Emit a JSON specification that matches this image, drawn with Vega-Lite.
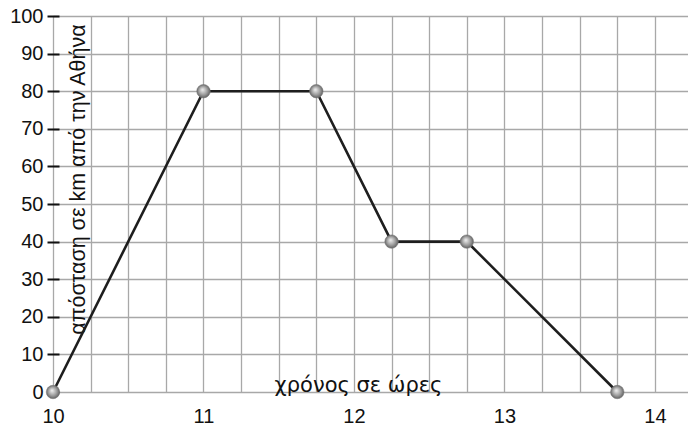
{
  "$schema": "https://vega.github.io/schema/vega-lite/v6.json",
  "autosize": "none",
  "width": 635,
  "height": 376,
  "padding": {"left": 53, "top": 16, "right": 0, "bottom": 35},
  "background": "white",
  "config": {
    "view": {"stroke": null},
    "font": "Liberation Sans",
    "axis": {"gridColor": "#a8a8a8", "gridWidth": 1.3, "gridOpacity": 1}
  },
  "data": {
    "values": [
      {"t": 10, "d": 0},
      {"t": 11, "d": 80},
      {"t": 11.75, "d": 80},
      {"t": 12.25, "d": 40},
      {"t": 12.75, "d": 40},
      {"t": 13.75, "d": 0}
    ]
  },
  "encoding": {
    "x": {
      "field": "t",
      "type": "quantitative",
      "scale": {"domain": [10, 14.22], "nice": false, "zero": false},
      "axis": {
        "values": [10, 10.25, 10.5, 10.75, 11, 11.25, 11.5, 11.75, 12, 12.25, 12.5, 12.75, 13, 13.25, 13.5, 13.75, 14],
        "labelExpr": "datum.value % 1 === 0 ? format(datum.value, 'd') : ''",
        "ticks": false,
        "domain": false,
        "grid": true,
        "labelFontSize": 20,
        "labelColor": "#111",
        "labelPadding": 14,
        "labelFlush": false,
        "title": "χρόνος σε ώρες",
        "titleFont": "DejaVu Sans",
        "titleFontSize": 21,
        "titleFontWeight": "normal",
        "titleColor": "#111",
        "titleX": 305,
        "titleY": -1,
        "titleBaseline": "alphabetic",
        "titleAlign": "center"
      }
    },
    "y": {
      "field": "d",
      "type": "quantitative",
      "scale": {"domain": [0, 100], "nice": false},
      "axis": {
        "values": [0, 10, 20, 30, 40, 50, 60, 70, 80, 90, 100],
        "format": "d",
        "grid": true,
        "domain": false,
        "offset": -6,
        "tickSize": 12,
        "tickColor": "#111",
        "tickWidth": 2,
        "labelFontSize": 20,
        "labelColor": "#111",
        "labelPadding": 4,
        "labelFlush": false,
        "title": "απόσταση σε km από την Αθήνα",
        "titleFontSize": 21.5,
        "titleFontWeight": "normal",
        "titleColor": "#111",
        "titleAngle": -90,
        "titleX": 25,
        "titleY": 163,
        "titleAlign": "center",
        "titleBaseline": "alphabetic"
      }
    }
  },
  "layer": [
    {"mark": {"type": "line", "color": "#1e1e1e", "strokeWidth": 2.6}},
    {
      "mark": {
        "type": "point",
        "filled": true,
        "size": 180,
        "opacity": 1,
        "stroke": "#777",
        "strokeWidth": 0.6,
        "fill": {
          "gradient": "radial",
          "x1": 0.42, "y1": 0.38, "r1": 0,
          "x2": 0.5, "y2": 0.5, "r2": 0.55,
          "stops": [
            {"offset": 0, "color": "#f2f2f2"},
            {"offset": 0.6, "color": "#9a9a9a"},
            {"offset": 1, "color": "#555"}
          ]
        }
      }
    }
  ]
}
